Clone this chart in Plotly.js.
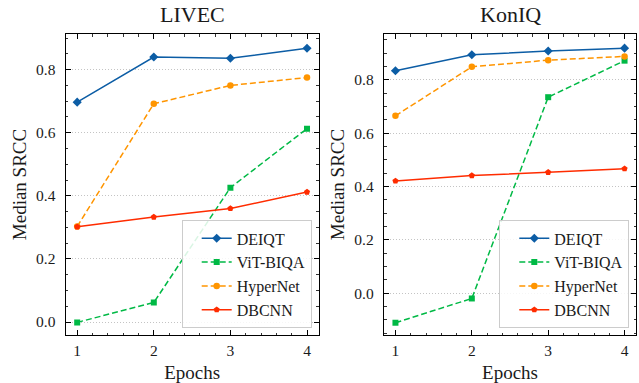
<!DOCTYPE html>
<html>
<head>
<meta charset="utf-8">
<script src="https://cdn.plot.ly/plotly-3.0.1.min.js"></script>
<style>html,body{margin:0;padding:0;background:#fff;}#chart{width:639px;height:383px;}</style>
</head>
<body>
<div id="chart"></div>
<script>
const epochs = [1, 2, 3, 4];
const methods = ["DEIQT", "ViT-BIQA", "HyperNet", "DBCNN"];

const livecDEIQT = [0.697, 0.840, 0.836, 0.868];
const livecViT = [-0.001, 0.062, 0.426, 0.613];
const livecHyperNet = [0.303, 0.692, 0.750, 0.775];
const livecDBCNN = [0.302, 0.333, 0.360, 0.412];

const koniqDEIQT = [0.834, 0.894, 0.908, 0.919];
const koniqViT = [-0.111, -0.020, 0.735, 0.872];
const koniqHyperNet = [0.665, 0.849, 0.874, 0.888];
const koniqDBCNN = [0.421, 0.441, 0.453, 0.467];

const panelTitles = ["LIVEC", "KonIQ"];

const colors = ["#0C5DA5", "#00B945", "#FF9500", "#FF2C00"];
const symbols = ["diamond", "square", "circle", "pentagon"];
const markerSizes = [7, 6, 6.5, 6.5];
const dashes = ["solid", "6px,3px", "6px,3px", "solid"];

const FONT = "'Liberation Serif'";
const TXT = "#1a1a1a";

const livec = [livecDEIQT, livecViT, livecHyperNet, livecDBCNN];
const koniq = [koniqDEIQT, koniqViT, koniqHyperNet, koniqDBCNN];

const traces = [];
[livec, koniq].forEach((panel, p) => {
  panel.forEach((vals, i) => {
    traces.push({
      x: epochs, y: vals, name: methods[i], type: "scatter", mode: "lines+markers",
      xaxis: p === 0 ? "x" : "x2", yaxis: p === 0 ? "y" : "y2",
      legend: p === 0 ? "legend" : "legend2",
      line: {color: colors[i], width: 1.5, dash: dashes[i]},
      marker: {color: colors[i], symbol: symbols[i], size: markerSizes[i], line: {width: 0}}
    });
  });
});

function xax(domain, anchor) {
  return {
    domain: domain, anchor: anchor, range: [0.85, 4.15],
    tickmode: "linear", tick0: 1, dtick: 1,
    ticks: "inside", ticklen: 5, tickwidth: 1, tickcolor: "#000",
    minor: {dtick: 0.2, ticks: "inside", ticklen: 2.5, tickwidth: 0.8, tickcolor: "#000", showgrid: false},
    showline: true, linecolor: "#000", linewidth: 1.2, mirror: "allticks",
    showgrid: false, zeroline: false,
    ticklabelstandoff: 1,
    tickfont: {family: FONT, size: 15.5, color: TXT},
    title: {text: "Epochs", font: {family: FONT, size: 19, color: TXT}, standoff: 8}
  };
}
function yax(domain, anchor, range) {
  return {
    domain: domain, anchor: anchor, range: range,
    tickmode: "linear", tick0: 0, dtick: 0.2, tickformat: ".1f",
    ticks: "inside", ticklen: 5, tickwidth: 1, tickcolor: "#000",
    minor: {dtick: 0.05, ticks: "inside", ticklen: 2.5, tickwidth: 0.8, tickcolor: "#000", showgrid: false},
    showline: true, linecolor: "#000", linewidth: 1.2, mirror: "allticks",
    showgrid: true, gridcolor: "#c4c4c4", griddash: "1px,2px", gridwidth: 1,
    zeroline: false,
    ticklabelstandoff: 6,
    tickfont: {family: FONT, size: 15.5, color: TXT},
    title: {text: "Median SRCC", font: {family: FONT, size: 19, color: TXT}, standoff: 4}
  };
}

const W = 639;
const legendBase = {
  bgcolor: "rgba(255,255,255,0.85)", bordercolor: "#cccccc", borderwidth: 1,
  font: {family: FONT, size: 16, color: TXT},
  xanchor: "right", yanchor: "bottom", tracegroupgap: 0, itemwidth: 30, indentation: 14
};

const layout = {
  width: 639, height: 383,
  font: {family: FONT, color: TXT},
  margin: {l: 0, r: 0, t: 34, b: 48, pad: 0},
  paper_bgcolor: "#fff", plot_bgcolor: "#fff",
  showlegend: true,
  xaxis: xax([65.7 / W, 318.5 / W], "y"),
  yaxis: yax([0, 1], "x", [-0.041, 0.913]),
  xaxis2: xax([384 / W, 636 / W], "y2"),
  yaxis2: yax([0, 1], "x2", [-0.157, 0.972]),
  legend: Object.assign({}, legendBase, {x: 311.7 / W, y: 0.022}),
  legend2: Object.assign({}, legendBase, {x: 629.3 / W, y: 0.022}),
  annotations: [
    {text: panelTitles[0], xref: "paper", yref: "paper", x: (65.7 + 318.5) / 2 / W, y: 1, yshift: 5,
     xanchor: "center", yanchor: "bottom", showarrow: false, font: {family: FONT, size: 22, color: TXT}},
    {text: panelTitles[1], xref: "paper", yref: "paper", x: (384 + 636) / 2 / W, y: 1, yshift: 5,
     xanchor: "center", yanchor: "bottom", showarrow: false, font: {family: FONT, size: 22, color: TXT}}
  ]
};

Plotly.newPlot("chart", traces, layout, {displayModeBar: false, staticPlot: true});
</script>
</body>
</html>
